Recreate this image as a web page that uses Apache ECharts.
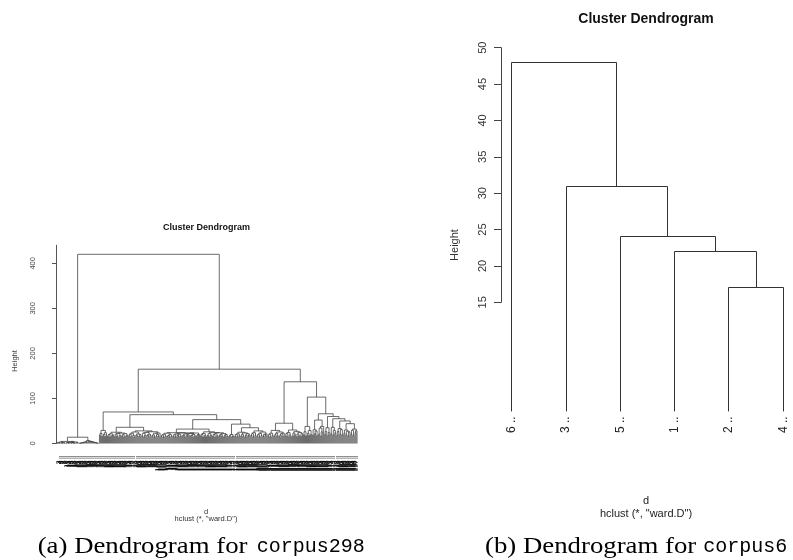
<!DOCTYPE html>
<html><head><meta charset="utf-8">
<script src="https://cdn.jsdelivr.net/npm/echarts@6/dist/echarts.min.js"></script>
<style>html,body{margin:0;padding:0;background:#fff}#c{width:793px;height:560px}</style>
</head><body><div id="c"></div>
<script>
// ================= DATA =================
// corpus6 : leaves in plotted order, and merge height between each pair of adjacent leaves
const leafLabels6 = ['6 ..', '3 ..', '5 ..', '1 ..', '2 ..', '4 ..'];
const mergeHeights6 = [48.0, 30.9, 24.1, 22.0, 17.0];
const yTicks6 = [15, 20, 25, 30, 35, 40, 45, 50];

// corpus298 : merge (cophenetic) height between adjacent leaves, left to right
const gapsSmallGroup = [ // leaves 1-42
  1.2, 2.0, 0.8, 3.1, 1.5, 0.9, 2.4, 1.1, 4.6, 1.3, 2.2, 0.7, 1.8, 3.0, 1.0, 2.6, 0.9, 1.4, 3.4, 1.2, 2.1,
  14,
  0.6, 0.9, 1.3, 1.7, 2.2, 2.8, 3.3, 3.9,
  6.5,
  5.6, 5.0, 4.4, 3.8, 3.2, 2.6, 2.0, 1.5, 1.0, 0.6
];
const rootHeight298 = 420;
const gapsLeftBranch = [ // leaves 43-209
  18.5, 22.2, 16.1, 29, 20.3, 15.4, 23.8,
  70,
  16.2, 19.5, 14.8, 21.3, 17.1, 18.6, 25, 15.3, 20.8, 16.9, 22.4, 13.9, 17.7, 23.2, 16.6, 19.4, 14.5, 21.9, 16.3, 18.1,
  36,
  17.3, 20.6, 15.2, 22.8, 18.4, 14.1, 25.5, 18.7, 16.0, 21.2, 15.5, 19.8, 28, 16.6, 22.7, 14.9, 18.3, 24.6, 17.8, 15.1,
  20.4, 18.2, 26.1, 16.4, 19.1, 14.3, 22.9, 17.0, 20.2, 15.8, 23.3,
  64,
  15.4, 18.8, 14.2, 20.5, 16.7, 22.9, 15.9, 17.3, 13.8, 19.4, 16.2, 24, 16.1, 19.6, 14.7, 21.2, 17.9, 15.3, 20.7, 16.5,
  23.4, 16.8, 18.4, 14.4, 21.1, 17.9, 15.6, 19.2, 22.6, 16.3, 17.8, 14.0, 20.1, 17.1, 23.3, 15.7, 18.9, 20.3,
  32,
  16.9, 20.1, 14.6, 22.4, 18.0, 15.2, 26, 17.7, 21.9, 15.0, 18.5, 24.1, 16.2, 19.7, 14.1, 21.6, 17.4, 23.8, 15.5, 18.0,
  20.3, 16.5, 22.0, 14.8, 17.6, 19.9, 16.0,
  53,
  15.2, 17.4, 20, 14.8, 16.3,
  43,
  16.4, 19.9, 14.7, 21.5, 17.1, 25, 15.9, 20.2, 17.0, 23.4, 14.5, 18.7, 21.8, 16.6, 19.0,
  35,
  17.5, 21.6, 15.1, 23.9, 18.2, 28, 16.3, 19.5, 14.4, 22.3, 17.7, 25.4, 15.6, 20.5, 17.8, 21.1
];
const secondHeight298 = 165;
const gapsRightBranch = [ // leaves 210-298
  16.1, 20.2, 14.3, 22.8, 17.6, 29, 15.4, 19.3, 22.7, 16.8, 25.5, 14.9, 18.4, 21.6, 15.7, 23.0,
  45,
  17.0, 21.8, 15.3, 24.2, 18.9, 14.6, 30, 16.7, 23.0, 19.6, 26.3, 15.2, 20.8, 17.3, 24.5, 16.1, 22.0,
  137,
  19.4, 26.1, 16.8, 38, 22.5, 17.9, 28.7, 20.0,
  103,
  18.6, 30.5, 22.2, 27.7, 17.4, 52, 20.9, 34.3, 16.5, 25.8, 38.0,
  66,
  19.8, 26.6, 35, 17.7, 24.2,
  60,
  21.4, 36, 18.3, 28.9, 23.7,
  55,
  17.9, 26.6, 33, 20.3, 30.8, 19.1,
  50,
  22.8, 30, 18.8, 27.2, 16.9, 25.4,
  44,
  20.6, 29.5, 17.5, 32, 23.9, 28.1
];
const yTicks298 = [0, 100, 200, 300, 400];
const mergeHeights298 = [].concat(gapsSmallGroup, [rootHeight298], gapsLeftBranch, [secondHeight298], gapsRightBranch);
const leafCount298 = mergeHeights298.length + 1;
const leafLabels298 = Array.from({length: leafCount298}, (_, i) => (i + 1) + ' ..');

// ================= LAYOUT HELPERS =================
// Each internal node: [leftX, leftH, height, rightX, rightH]; leaves hang to 0 (hang = -1)
function dendroNodes(gaps) {
  const nodes = [];
  function rec(lo, hi) {
    if (lo === hi) return {x: lo + 1, h: 0};
    let k = lo;
    for (let i = lo + 1; i < hi; i++) if (gaps[i] > gaps[k]) k = i;
    const L = rec(lo, k), R = rec(k + 1, hi);
    nodes.push([L.x, L.h, gaps[k], R.x, R.h]);
    return {x: (L.x + R.x) / 2, h: gaps[k]};
  }
  rec(0, gaps.length);
  return nodes;
}
function dendroSeries(nodes, xi, yi, color, width, snap) {
  const s = v => snap ? Math.round(v - 0.5) + 0.5 : v;
  return {
    type: 'custom', xAxisIndex: xi, yAxisIndex: yi, data: nodes, silent: true, clip: false,
    encode: {x: [0, 3], y: [1, 2, 4]},
    renderItem(params, api) {
      const a = api.coord([api.value(0), api.value(1)]);
      const b = api.coord([api.value(0), api.value(2)]);
      const c = api.coord([api.value(3), api.value(2)]);
      const d = api.coord([api.value(3), api.value(4)]);
      return {
        type: 'polyline',
        shape: {points: [[s(a[0]), a[1]], [s(b[0]), s(b[1])], [s(c[0]), s(c[1])], [s(d[0]), d[1]]]},
        style: {stroke: color, lineWidth: width, fill: null}
      };
    }
  };
}
const sans = '"Liberation Sans", Arial, sans-serif';
const leafPos298 = leafLabels298.map((_, i) => i + 1);
const leafPos6 = leafLabels6.map((_, i) => i + 1);

function txt(x, y, text, size, opts) {
  opts = opts || {};
  return {
    type: 'text', x: x, y: y, rotation: opts.rot || 0, scaleX: opts.sx || 1, silent: true,
    style: {
      text: text, fill: opts.color || '#222', textAlign: opts.align || 'center', textVerticalAlign: 'middle',
      font: (opts.bold ? 'bold ' : '') + size + 'px ' + (opts.family || sans)
    }
  };
}

// ================= CHART =================
const chart = echarts.init(document.getElementById('c'), null, {renderer: 'canvas'});
const noLine = {show: false}, noSplit = {show: false};
chart.setOption({
  animation: false,
  backgroundColor: '#fff',
  grid: [
    {left: 45, top: 245.3, width: 320, height: 198.2},
    {left: 501, top: 47.7, width: 292, height: 363.7},
    {left: 501, top: 47.7, width: 292, height: 254.6}
  ],
  xAxis: [
    {gridIndex: 0, type: 'value', min: -10.9, max: 305.9, axisLine: noLine, axisTick: noLine, splitLine: noSplit,
     axisLabel: {customValues: leafPos298, formatter: v => leafLabels298[v - 1], rotate: 90, fontSize: 6.2,
                 margin: 12, color: '#000', fontFamily: sans}},
    {gridIndex: 1, type: 'value', min: 0.803, max: 6.18, axisLine: noLine, axisTick: noLine, splitLine: noSplit,
     axisLabel: {customValues: leafPos6, formatter: v => leafLabels6[v - 1], rotate: 90, fontSize: 12,
                 margin: 5, color: '#222', fontFamily: sans}},
    {gridIndex: 2, type: 'value', min: 0, max: 1, show: false}
  ],
  yAxis: [
    {gridIndex: 0, type: 'value', min: 0, max: 440, splitLine: noSplit,
     axisLine: {show: true, lineStyle: {color: '#555', width: 1}},
     axisTick: {show: true, customValues: yTicks298, length: 4, lineStyle: {color: '#555'}},
     axisLabel: {customValues: yTicks298, rotate: 90, fontSize: 7.5, margin: 8, color: '#444', fontFamily: sans}},
    {gridIndex: 1, type: 'value', min: 0, max: 50, show: false},
    {gridIndex: 2, type: 'value', min: 15, max: 50, interval: 5, splitLine: noSplit,
     axisLine: {show: true, lineStyle: {color: '#444', width: 1}},
     axisTick: {show: true, length: 7, lineStyle: {color: '#444'}},
     axisLabel: {rotate: 90, fontSize: 11, margin: 13, color: '#333', fontFamily: sans}}
  ],
  series: [
    dendroSeries(dendroNodes(mergeHeights298), 0, 0, '#3a3a3a', 0.75, false),
    dendroSeries(dendroNodes(mergeHeights6), 1, 1, '#333', 1, true)
  ],
  graphic: [
    txt(206.5, 227.5, 'Cluster Dendrogram', 9, {bold: true, color: '#111'}),
    txt(15.3, 361, 'Height', 7.5, {rot: Math.PI / 2, color: '#444'}),
    txt(206, 511.5, 'd', 7.5, {color: '#333'}),
    txt(206, 518.5, 'hclust (*, "ward.D")', 7.5, {color: '#333'}),
    txt(646, 19.5, 'Cluster Dendrogram', 14, {bold: true, color: '#111'}),
    txt(455, 245, 'Height', 11, {rot: Math.PI / 2, color: '#333'}),
    txt(646, 500.5, 'd', 11, {color: '#222'}),
    txt(646, 513.5, 'hclust (*, "ward.D")', 11, {color: '#222'}),
    txt(37.7, 546.5, '(a) Dendrogram for', 23.5, {align: 'left', sx: 1.14, color: '#000', family: '"Liberation Serif", serif'}),
    txt(256.7, 547, 'corpus298', 20, {align: 'left', color: '#000', family: '"Liberation Mono", monospace'}),
    txt(485, 546.5, '(b) Dendrogram for', 23.5, {align: 'left', sx: 1.14, color: '#000', family: '"Liberation Serif", serif'}),
    txt(703.3, 547, 'corpus6', 20, {align: 'left', color: '#000', family: '"Liberation Mono", monospace'})
  ]
});
</script>
</body></html>
